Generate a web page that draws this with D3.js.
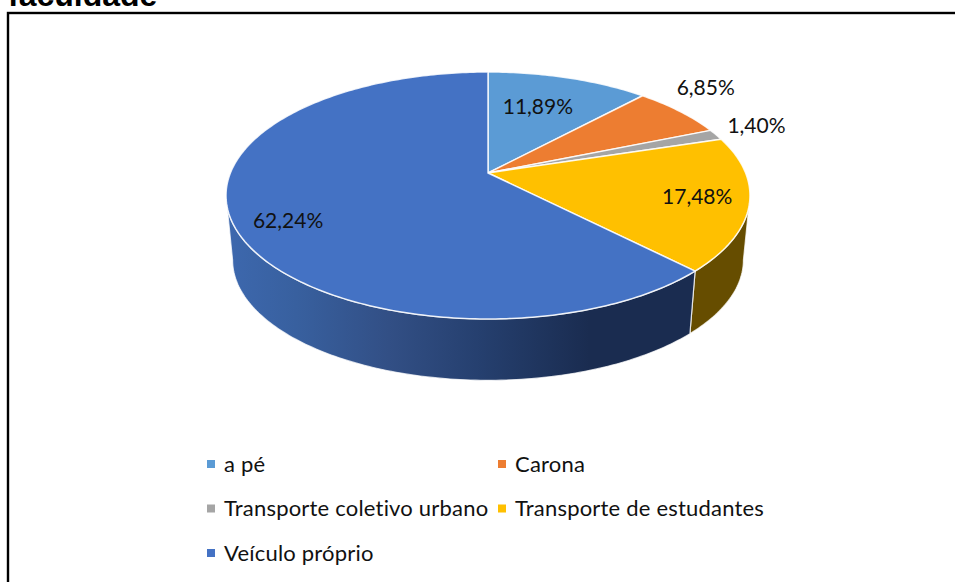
<!DOCTYPE html>
<html><head><meta charset="utf-8">
<script src="https://cdn.jsdelivr.net/npm/d3@7"></script>
<style>html,body{margin:0;padding:0;background:#fff;overflow:hidden}svg{display:block}text{font-variant-ligatures:none}</style>
</head><body><svg id="c" width="955" height="582"></svg>
<script>
const categories = ["a pé","Carona","Transporte coletivo urbano","Transporte de estudantes","Veículo próprio"];
const values = [11.89,6.85,1.40,17.48,62.24];
const valueLabels = ["11,89%","6,85%","1,40%","17,48%","62,24%"];
const colors = ["#5b9bd5","#ed7d31","#a5a5a5","#ffc000","#4472c4"];
const sideColors = ["#2e5c86","#8a4a1a","#636363","#664d00","#1a2c50"];
const titleText = "faculdade";

const svg = d3.select("#c");
const font = "Lato, Carlito, sans-serif";
const cx=488, cy=173, Rx=257.6, Ry=119.4, k=0.182, cyB=238, sB=0.975;
const project = (a,r=1)=>{const x=r*Math.sin(a),y=-r*Math.cos(a),w=1-k*y;return [cx+Rx*x/w,cy+Ry*y/w];};
const lower = (a)=>{const p=project(a);return [cx+(p[0]-cx)*sB,cyB+(p[1]-cy)*sB];};
const arcs = d3.pie().sort(null).value(d=>d)(values);
const line = d3.line();
const samples=(a0,a1)=>{const n=Math.max(2,Math.ceil((a1-a0)*60));return d3.range(n+1).map(i=>a0+(a1-a0)*i/n);};

svg.append("text").attr("x",8).attr("y",6).attr("font-family","Liberation Sans, Arial, sans-serif")
  .attr("font-weight","bold").attr("font-size",32).attr("fill","#000").text(titleText);
svg.append("rect").attr("x",8).attr("y",13).attr("width",1000).attr("height",700)
  .attr("fill","#fff").attr("stroke","#000").attr("stroke-width",2.4);

const g=svg.append("defs").append("linearGradient").attr("id","vside").attr("gradientUnits","userSpaceOnUse")
  .attr("x1",226).attr("x2",692).attr("y1",0).attr("y2",0);
[[0,"#3d68ae"],[0.15,"#38609f"],[0.35,"#324f85"],[0.55,"#253f6e"],[0.78,"#1a2c50"],[1,"#1a2c50"]]
  .forEach(s=>g.append("stop").attr("offset",s[0]).attr("stop-color",s[1]));

// side walls: front-facing part of the rim, between the ellipse's left and right tangents
const sideLo=Math.PI*0.5+Math.asin(k), sideHi=Math.PI*1.5-Math.asin(k);
arcs.forEach((d,i)=>{
  const a0=Math.max(d.startAngle,sideLo), a1=Math.min(d.endAngle,sideHi);
  if(a1<=a0) return;
  const as=samples(a0,a1);
  const pts=as.map(a=>project(a)).concat(as.slice().reverse().map(lower));
  svg.append("path").attr("d",line(pts)+"Z")
    .attr("fill",i===4?"url(#vside)":sideColors[i])
    .attr("stroke","#fff").attr("stroke-opacity",0.75).attr("stroke-width",1.2).attr("stroke-linejoin","round");
});
// top face
arcs.forEach((d,i)=>{
  const pts=[[cx,cy]].concat(samples(d.startAngle,d.endAngle).map(a=>project(a)));
  svg.append("path").attr("d",line(pts)+"Z").attr("fill",colors[i])
    .attr("stroke","#fff").attr("stroke-opacity",0.85).attr("stroke-width",1.5).attr("stroke-linejoin","round");
});
// value labels, placed from each slice's mid-angle
const labelRadius=[0.66,1.2,1.2,0.8,0.8], labelNudge=[[-6,0],[-8,-13],[-2,-2],[2,0],[2,9]];
arcs.forEach((d,i)=>{
  const p=project((d.startAngle+d.endAngle)/2,labelRadius[i]);
  svg.append("text").attr("x",p[0]+labelNudge[i][0]).attr("y",p[1]+labelNudge[i][1]).attr("dy","0.35em")
    .attr("text-anchor","middle").attr("font-family",font).attr("font-size",21).attr("fill","#111").text(valueLabels[i]);
});
// legend: two columns, three rows
const legX=d3.scaleOrdinal().domain([0,1]).range([207,498]);
const legY=d3.scalePoint().domain([0,1,2]).range([464,553]);
categories.forEach((t,i)=>{
  const x=legX(i%2), y=legY(Math.floor(i/2));
  svg.append("rect").attr("x",x).attr("y",y-4).attr("width",8).attr("height",8).attr("fill",colors[i]);
  svg.append("text").attr("x",x+17).attr("y",y).attr("dy","0.35em").attr("font-family",font)
    .attr("font-size",22).attr("letter-spacing",0.2).attr("fill","#111").text(t);
});
</script></body></html>
